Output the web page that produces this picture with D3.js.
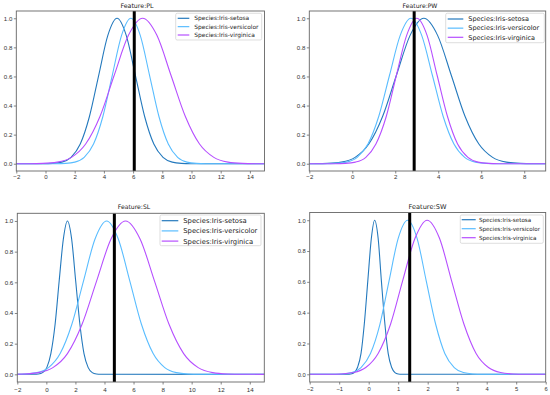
<!DOCTYPE html>
<html>
<head>
<meta charset="utf-8">
<script src="https://cdn.jsdelivr.net/npm/d3@7"></script>
<style>
body { margin: 0; background: #fff; }
svg { display: block; font-family: "DejaVu Sans", sans-serif; }
</style>
</head>
<body>
<svg id="chart" width="550" height="395"></svg>
<script>
// values
var SPECIES = ["Species:Iris-setosa", "Species:Iris-versicolor", "Species:Iris-virginica"];
var COLORS = ["#2479bd", "#5abdff", "#b64fff"];
var FEATURES = ["PL", "PW", "SL", "SW"];

// curve heights (same for every curve, each one peaks at 1.0)
var SHAPE_Y = [0.0003, 0.0022, 0.0111, 0.0439, 0.1353, 0.3247, 0.6065, 0.8825, 1,
               0.8825, 0.6065, 0.3247, 0.1353, 0.0439, 0.0111, 0.0022, 0.0003];

// x positions of those heights, per feature and species
var PL_X = [
    [-0.14, 0.49, 1.12, 1.75, 2.38, 3.01, 3.64, 4.27, 4.9, 5.53, 6.16, 6.79, 7.42, 8.05, 8.68, 9.31, 9.94],
    [0.73, 1.37, 2.01, 2.65, 3.29, 3.93, 4.57, 5.21, 5.85, 6.49, 7.13, 7.77, 8.41, 9.05, 9.69, 10.33, 10.97],
    [-1.15, -0.18, 0.8, 1.78, 2.75, 3.73, 4.7, 5.68, 6.65, 7.63, 8.6, 9.58, 10.55, 11.53, 12.5, 13.48, 14.45]
];
var PW_X = [
    [-1.79, -1.15, -0.51, 0.13, 0.77, 1.41, 2.05, 2.69, 3.33, 3.97, 4.61, 5.25, 5.89, 6.53, 7.17, 7.81, 8.45],
    [-1.27, -0.77, -0.27, 0.23, 0.73, 1.23, 1.73, 2.23, 2.73, 3.23, 3.73, 4.23, 4.73, 5.23, 5.73, 6.23, 6.73],
    [-0.8, -0.33, 0.15, 0.63, 1.1, 1.58, 2.05, 2.53, 3.0, 3.48, 3.95, 4.43, 4.9, 5.38, 5.85, 6.33, 6.8]
];
var SL_X = [
    [-0.83, -0.55, -0.26, 0.03, 0.31, 0.6, 0.88, 1.17, 1.45, 1.74, 2.02, 2.31, 2.59, 2.88, 3.16, 3.45, 3.73],
    [-2.25, -1.45, -0.65, 0.15, 0.95, 1.75, 2.55, 3.35, 4.15, 4.95, 5.75, 6.55, 7.35, 8.15, 8.95, 9.75, 10.55],
    [-2.55, -1.55, -0.55, 0.45, 1.45, 2.45, 3.45, 4.45, 5.45, 6.45, 7.45, 8.45, 9.45, 10.45, 11.45, 12.45, 13.45]
];
var SW_X = [
    [-0.72, -0.61, -0.49, -0.38, -0.26, -0.15, -0.03, 0.09, 0.2, 0.32, 0.43, 0.55, 0.66, 0.78, 0.89, 1.0, 1.12],
    [-1.2, -0.89, -0.57, -0.26, 0.06, 0.38, 0.69, 1.0, 1.32, 1.64, 1.95, 2.27, 2.58, 2.9, 3.21, 3.53, 3.84],
    [-1.34, -0.93, -0.51, -0.1, 0.32, 0.74, 1.15, 1.57, 1.98, 2.4, 2.81, 3.23, 3.64, 4.06, 4.47, 4.89, 5.3]
];
var CURVE_X = [PL_X, PW_X, SL_X, SW_X];

var SPLIT_X = [6.08, 2.88, 4.68, 1.39];   // black vertical line
var X_DOMAINS = [[-2, 15], [-2, 9], [-2, 15], [-2, 6]];
var X_TICKS = [
    [-2, 0, 2, 4, 6, 8, 10, 12, 14],
    [-2, 0, 2, 4, 6, 8],
    [-2, 0, 2, 4, 6, 8, 10, 12, 14],
    [-2, -1, 0, 1, 2, 3, 4, 5, 6]
];
var Y_TICKS = [0, 0.2, 0.4, 0.6, 0.8, 1.0];

// layout of the four panels
var PANELS = [
    {left: 16.3, right: 264.5, top: 11, bottom: 171, titleX: 137, titleY: 8, titleFont: 6.3,
     tickFont: 6.1, xPad: 1.2,
     legend: {x: 175.7, y: 13.3, w: 86, h: 26.7, lineX: 177.7, lineW: 11.6, textX: 194.3, row0: 18.3, rowH: 8.35, font: 5.9}},
    {left: 309.3, right: 545.7, top: 11, bottom: 171, titleX: 420, titleY: 8, titleFont: 6.1,
     tickFont: 6.1, xPad: 1.2,
     legend: {x: 445.7, y: 13.3, w: 98.6, h: 29.4, lineX: 447.7, lineW: 15.6, textX: 468.3, row0: 19, rowH: 9.15, font: 6.5}},
    {left: 17.3, right: 264.3, top: 213.3, bottom: 382, titleX: 134, titleY: 208.9, titleFont: 6.1,
     tickFont: 6.2, xPad: 2.8,
     legend: {x: 160, y: 215, w: 101, h: 30.7, lineX: 161.7, lineW: 16.6, textX: 183.3, row0: 220.7, rowH: 10.2, font: 6.8}},
    {left: 309.7, right: 545.7, top: 212.5, bottom: 382, titleX: 427.5, titleY: 209.2, titleFont: 6.6,
     tickFont: 5.8, xPad: 2.8,
     legend: {x: 460.3, y: 215, w: 83, h: 28.3, lineX: 461.7, lineW: 14, textX: 479, row0: 219.7, rowH: 9, font: 5.6}}
];

var svg = d3.select("#chart");

FEATURES.forEach(function(feature, p) {
    var box = PANELS[p];
    var x = d3.scaleLinear().domain(X_DOMAINS[p]).range([box.left, box.right]);
    var y = d3.scaleLinear().domain([-0.05, 1.05]).range([box.bottom, box.top]);
    var g = svg.append("g");

    g.append("clipPath").attr("id", "clip" + p)
        .append("rect")
        .attr("x", box.left).attr("y", box.top)
        .attr("width", box.right - box.left).attr("height", box.bottom - box.top);

    // axes
    var xAxis = g.append("g")
        .attr("transform", "translate(0," + box.bottom + ")")
        .call(d3.axisBottom(x).tickValues(X_TICKS[p]).tickSize(2.5).tickPadding(box.xPad)
            .tickFormat(function(d) { return d < 0 ? "\u2212" + Math.abs(d) : d; }));
    var yAxis = g.append("g")
        .attr("transform", "translate(" + box.left + ",0)")
        .call(d3.axisLeft(y).tickValues(Y_TICKS).tickSize(2.5).tickPadding(1.5).tickFormat(d3.format(".1f")));
    [xAxis, yAxis].forEach(function(a) {
        a.select(".domain").remove();
        a.selectAll("line").attr("stroke", "#666").attr("stroke-width", 0.8);
        a.selectAll("text").attr("fill", "#333").style("font-size", box.tickFont + "px");
    });

    // curves
    var line = d3.line()
        .x(function(d) { return x(d[0]); })
        .y(function(d) { return y(d[1]); })
        .curve(d3.curveMonotoneX);

    var plot = g.append("g").attr("clip-path", "url(#clip" + p + ")");
    CURVE_X[p].forEach(function(xs, s) {
        var pts = xs.map(function(v, i) { return [v, SHAPE_Y[i]]; });
        if (xs[0] > X_DOMAINS[p][0]) pts.unshift([X_DOMAINS[p][0], 0]);
        if (xs[xs.length - 1] < X_DOMAINS[p][1]) pts.push([X_DOMAINS[p][1], 0]);
        plot.append("path")
            .datum(pts)
            .attr("d", line)
            .attr("fill", "none")
            .attr("stroke", COLORS[s])
            .attr("stroke-width", 1.1);
    });

    // split line
    plot.append("line")
        .attr("x1", x(SPLIT_X[p])).attr("x2", x(SPLIT_X[p]))
        .attr("y1", box.top).attr("y2", box.bottom)
        .attr("stroke", "#000")
        .attr("stroke-width", 3);

    // frame
    g.append("rect")
        .attr("x", box.left).attr("y", box.top)
        .attr("width", box.right - box.left).attr("height", box.bottom - box.top)
        .attr("fill", "none")
        .attr("stroke", "#666")
        .attr("stroke-width", 0.9);

    // title
    g.append("text")
        .attr("x", box.titleX).attr("y", box.titleY)
        .attr("text-anchor", "middle")
        .attr("fill", "#222")
        .style("font-size", box.titleFont + "px")
        .text("Feature:" + feature);

    // legend
    var lg = box.legend;
    g.append("rect")
        .attr("x", lg.x).attr("y", lg.y).attr("width", lg.w).attr("height", lg.h)
        .attr("rx", 1.5)
        .attr("fill", "#fff").attr("fill-opacity", 0.8)
        .attr("stroke", "#d0d0d0").attr("stroke-width", 0.7);
    SPECIES.forEach(function(name, s) {
        var ry = lg.row0 + s * lg.rowH;
        g.append("line")
            .attr("x1", lg.lineX).attr("x2", lg.lineX + lg.lineW)
            .attr("y1", ry).attr("y2", ry)
            .attr("stroke", COLORS[s]).attr("stroke-width", 1.2);
        g.append("text")
            .attr("x", lg.textX).attr("y", ry + lg.font * 0.36)
            .attr("fill", "#222")
            .style("font-size", lg.font + "px")
            .text(name);
    });
});
</script>
</body>
</html>
